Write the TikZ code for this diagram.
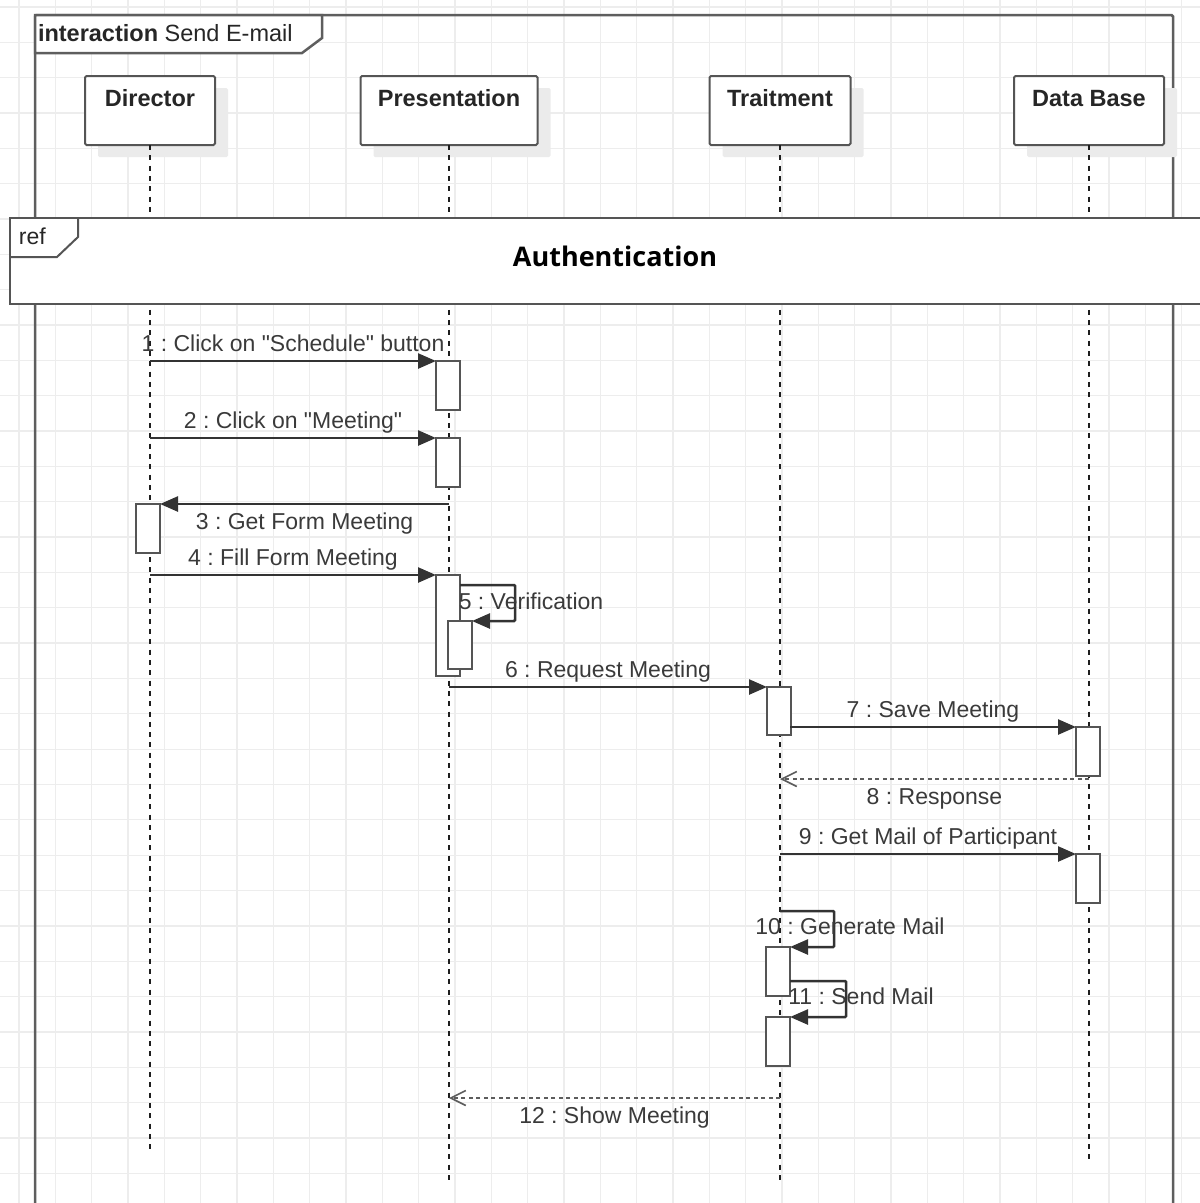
\documentclass[tikz,border=0pt]{standalone}
\usepackage{fontspec}
\setmainfont{Liberation Sans}
% a second family without TeX ligatures keeps straight double quotes
\newfontfamily\plainsans{Liberation Sans}
\newfontfamily\authfont{Open Sans}
\usetikzlibrary{arrows.meta,shadows,calc}
\frenchspacing

\definecolor{gridc}{HTML}{EDEDED}
\definecolor{framec}{HTML}{5E5E5E}
\definecolor{boxc}{HTML}{555555}
\definecolor{linec}{HTML}{333333}
\definecolor{txtc}{HTML}{3A3A3A}
\definecolor{shadc}{HTML}{EBEBEB}
\definecolor{lifec}{HTML}{1E1E1E}

\tikzset{
  every node/.style={inner sep=0pt, outer sep=0pt},
  txt/.style={font=\plainsans\fontsize{23}{27}\selectfont, text=txtc, text height=17pt, text depth=5pt},
  headtxt/.style={font=\fontsize{23.5}{27}\selectfont\bfseries, text=black!85, anchor=north, text height=17pt, text depth=5pt},
  headbox/.style={draw=boxc, line width=2pt, fill=white, rounded corners=1.5pt, anchor=north,
    minimum height=69pt,
    general shadow={fill=shadc, shadow xshift=13pt, shadow yshift=-12pt}},
  act/.style={draw=boxc, line width=2pt, fill=white, anchor=north west, minimum width=24pt},
  lifeline/.style={draw=lifec, line width=2pt, dash pattern=on 5pt off 5.3pt},
  msg/.style={draw=linec, line width=2.5pt, -{Triangle[length=18pt,width=15pt]}},
  reply/.style={draw=linec!80, line width=2pt, dash pattern=on 4pt off 3.5pt,
    -{Straight Barb[length=15pt,width=15pt,line width=1.6pt]}},
  framepath/.style={draw=framec, line width=2.5pt},
}

\begin{document}
\begin{tikzpicture}[x=1pt, y=-1pt]
  \useasboundingbox (0,0) rectangle (1200,1203);

  % background grid
  \foreach \i in {0,...,32} {
    \draw[gridc, line width=1.3pt] ({19+36.33*\i},0) -- ({19+36.33*\i},1203);
  }
  \foreach \j in {0,...,33} {
    \draw[gridc, line width=1.3pt] (0,{7+35.34*\j}) -- (1200,{7+35.34*\j});
  }

  % interaction frame
  \draw[framepath, rounded corners=1.5pt] (35,1210) -- (35,15) -- (1173,15) -- (1173,1210);
  \draw[framepath, fill=white] (35,15) -- (322,15) -- (322,38) -- (302,53) -- (35,53) -- cycle;
  \node[anchor=base west, font=\fontsize{23.5}{27}\selectfont, text=black!85] (frametitle) at (38,41.5)
    {\textbf{interaction} Send E-mail};

  % lifeline heads
  \node[headbox, minimum width=130pt] (dir) at (150,76) {};
  \node[headbox, minimum width=177pt] (pres) at (449,76) {};
  \node[headbox, minimum width=141pt] (trt) at (780,76) {};
  \node[headbox, minimum width=150pt] (db) at (1089,76) {};
  \node[headtxt] (dirname) at ($(dir.north)+(0,13)$) {Director};
  \node[headtxt] (presname) at ($(pres.north)+(0,13)$) {Presentation};
  \node[headtxt] (trtname) at ($(trt.north)+(0,13)$) {Traitment};
  \node[headtxt] (dbname) at ($(db.north)+(0,13)$) {Data Base};

  % lifelines
  \coordinate (dirend) at (150,1150);
  \coordinate (presend) at (449,1182);
  \coordinate (trtend) at (780,1182);
  \coordinate (dbend) at (1089,1161);
  \draw[lifeline] (dir.south) -- (dirend);
  \draw[lifeline] (pres.south) -- (presend);
  \draw[lifeline] (trt.south) -- (trtend);
  \draw[lifeline] (db.south) -- (dbend);

  % interaction use: Authentication
  \node[draw=boxc, line width=2pt, fill=white, anchor=north west,
        minimum width=1210pt, minimum height=86pt] (ref) at (10,218) {};
  \draw[draw=boxc, line width=2pt] (78,218) -- (78,237) -- (57,257) -- (10,257);
  \node[anchor=base west, font=\fontsize{23}{27}\selectfont, text=black!85] (reftag) at (19,244) {ref};
  \node[font=\authfont\fontsize{27}{32}\selectfont\bfseries, text=black] (reftitle) at (615,256) {Authentication};

  % activation bars
  \node[act, minimum height=49pt] (a1) at (436,361) {};
  \node[act, minimum height=49pt] (a2) at (436,438) {};
  \node[act, minimum height=49pt] (a3) at (136,504) {};
  \node[act, minimum height=101pt] (a4) at (436,575) {};
  \node[act, minimum height=48pt] (a5) at (448,621) {};
  \node[act, minimum height=48pt] (a6) at (767,687) {};
  \node[act, minimum height=49pt] (a7) at (1076,727) {};
  \node[act, minimum height=49pt] (a9) at (1076,854) {};
  \node[act, minimum height=49pt] (a10) at (766,947) {};
  \node[act, minimum height=49pt] (a11) at (766,1017) {};

  % message end points on the lifelines
  \coordinate (m1) at (150,361);
  \coordinate (m2) at (150,438);
  \coordinate (m3) at (449,504);
  \coordinate (m4) at (150,575);
  \coordinate (m5) at (460,585);
  \coordinate (m6) at (449,687);
  \coordinate (m7) at (790,727);
  \coordinate (m8s) at (1089,779);
  \coordinate (m8e) at (780,779);
  \coordinate (m9) at (780,854);
  \coordinate (m10) at (780,911);
  \coordinate (m11) at (790,981);
  \coordinate (m12s) at (780,1098);
  \coordinate (m12e) at (449,1098);

  % messages
  \draw[msg] (m1) -- node[txt, above=5pt] {1 : Click on "Schedule" button} (a1.north west);
  \draw[msg] (m2) -- node[txt, above=5pt] {2 : Click on "Meeting"} (a2.north west);
  \draw[msg] (m3) -- node[txt, below=8pt] {3 : Get Form Meeting} (a3.north east);
  \draw[msg] (m4) -- node[txt, above=5pt] {4 : Fill Form Meeting} (a4.north west);
  \draw[msg, rounded corners=1pt] (m5) -- (515,585) -- (515,621) -- (a5.north east);
  \node[txt, anchor=base] (l5) at (531,609) {5 : Verification};
  \draw[msg] (m6) -- node[txt, above=5pt] {6 : Request Meeting} (a6.north west);
  \draw[msg] (m7) -- node[txt, above=5pt] {7 : Save Meeting} (m7 -| a7.west);
  \draw[reply] (m8s) -- node[txt, below=8pt] {8 : Response} (m8e);
  \draw[msg] (m9) -- node[txt, above=5pt] {9 : Get Mail of Participant} (a9.north west);
  \draw[msg, rounded corners=1pt] (m10) -- (834,911) -- (834,947) -- (a10.north east);
  \node[txt, anchor=base] (l10) at (850,934) {10 : Generate Mail};
  \draw[msg, rounded corners=1pt] (m11) -- (846,981) -- (846,1017) -- (a11.north east);
  \node[txt, anchor=base] (l11) at (861,1004) {11 : Send Mail};
  \draw[reply] (m12s) -- node[txt, below=8pt] {12 : Show Meeting} (m12e);
\end{tikzpicture}
\end{document}
